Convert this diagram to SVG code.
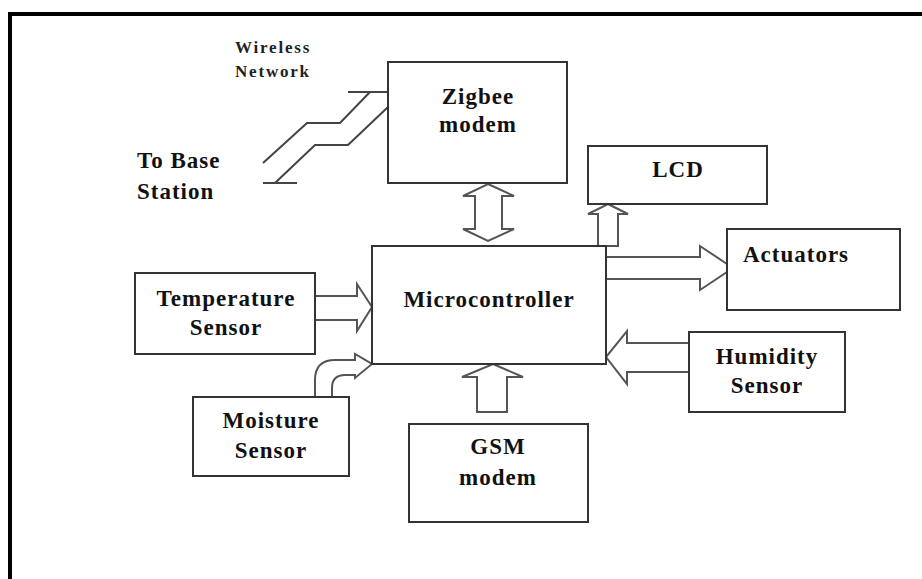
<svg xmlns="http://www.w3.org/2000/svg" width="922" height="579" viewBox="0 0 922 579">
<style>
.box{fill:#fff;stroke:#333;stroke-width:2}
.arr{fill:#fff;stroke:#555;stroke-width:2;stroke-linejoin:miter}
.ln{fill:none;stroke:#444;stroke-width:2}
.t{font-family:"Liberation Serif","Times New Roman",serif;font-weight:bold;font-size:23px;fill:#111;text-anchor:middle;letter-spacing:1px}
.s{font-family:"Liberation Serif","Times New Roman",serif;font-weight:bold;font-size:17px;fill:#222;letter-spacing:1.8px}
</style>
<rect width="922" height="579" fill="#fff"/>
<path d="M10,579 L10,14 L922,14" fill="none" stroke="#000" stroke-width="4"/>
<g id="wireless">
<text class="s" x="235" y="53">Wireless</text>
<text class="s" x="235" y="77">Network</text>
<path class="ln" d="M348,92 L388,92 M370,92 L340,123 L307,123 L263,163 M388,107 L348,145 L315,145 L275,183 M263,183 L297,183"/>
<text class="t" x="137" y="168" style="text-anchor:start">To Base</text>
<text class="t" x="137" y="199" style="text-anchor:start">Station</text>
</g>
<g id="connectors">
<path class="arr" d="M488,184 L514,196 L502,196 L502,229 L514,229 L488,241 L463,229 L475,229 L475,196 L463,196 Z"/>
<path class="arr" d="M608,204 L628,214 L618,214 L618,246 L598,246 L598,214 L588,214 Z"/>
<path class="arr" d="M606,257 L700,257 L700,246 L733,268 L700,290 L700,279 L606,279"/>
<path class="arr" d="M689,343 L627,343 L627,331 L606,357 L627,384 L627,372 L689,372"/>
<path class="arr" d="M315,296 L357,296 L357,284 L372,307 L357,331 L357,320 L315,320"/>
<path class="arr" d="M493,364 L523,377 L507,377 L507,412 L477,412 L477,377 L462,377 Z"/>
<path class="arr" d="M315,397 L315,380 Q315,360 335,360 L355,360 L355,354 L372,364 L355,378 L355,375 L345,375 Q332,375 332,388 L332,397"/>
</g>
<g id="zigbee">
<rect class="box" x="388" y="62" width="179" height="121"/>
<text class="t" x="478" y="104">Zigbee</text>
<text class="t" x="478" y="132">modem</text>
</g>
<g id="lcd">
<rect class="box" x="588" y="146" width="179" height="58"/>
<text class="t" x="678" y="177">LCD</text>
</g>
<g id="micro">
<rect class="box" x="372" y="246" width="234" height="118"/>
<text class="t" x="489" y="307">Microcontroller</text>
</g>
<g id="actuators">
<rect class="box" x="727" y="229" width="173" height="81"/>
<text class="t" x="796" y="262">Actuators</text>
</g>
<g id="humidity">
<rect class="box" x="689" y="332" width="156" height="80"/>
<text class="t" x="767" y="364">Humidity</text>
<text class="t" x="767" y="393">Sensor</text>
</g>
<g id="temperature">
<rect class="box" x="135" y="273" width="180" height="81"/>
<text class="t" x="226" y="306">Temperature</text>
<text class="t" x="226" y="335">Sensor</text>
</g>
<g id="moisture">
<rect class="box" x="193" y="397" width="156" height="79"/>
<text class="t" x="271" y="428">Moisture</text>
<text class="t" x="271" y="458">Sensor</text>
</g>
<g id="gsm">
<rect class="box" x="409" y="424" width="179" height="98"/>
<text class="t" x="498" y="454">GSM</text>
<text class="t" x="498" y="485">modem</text>
</g>
</svg>
